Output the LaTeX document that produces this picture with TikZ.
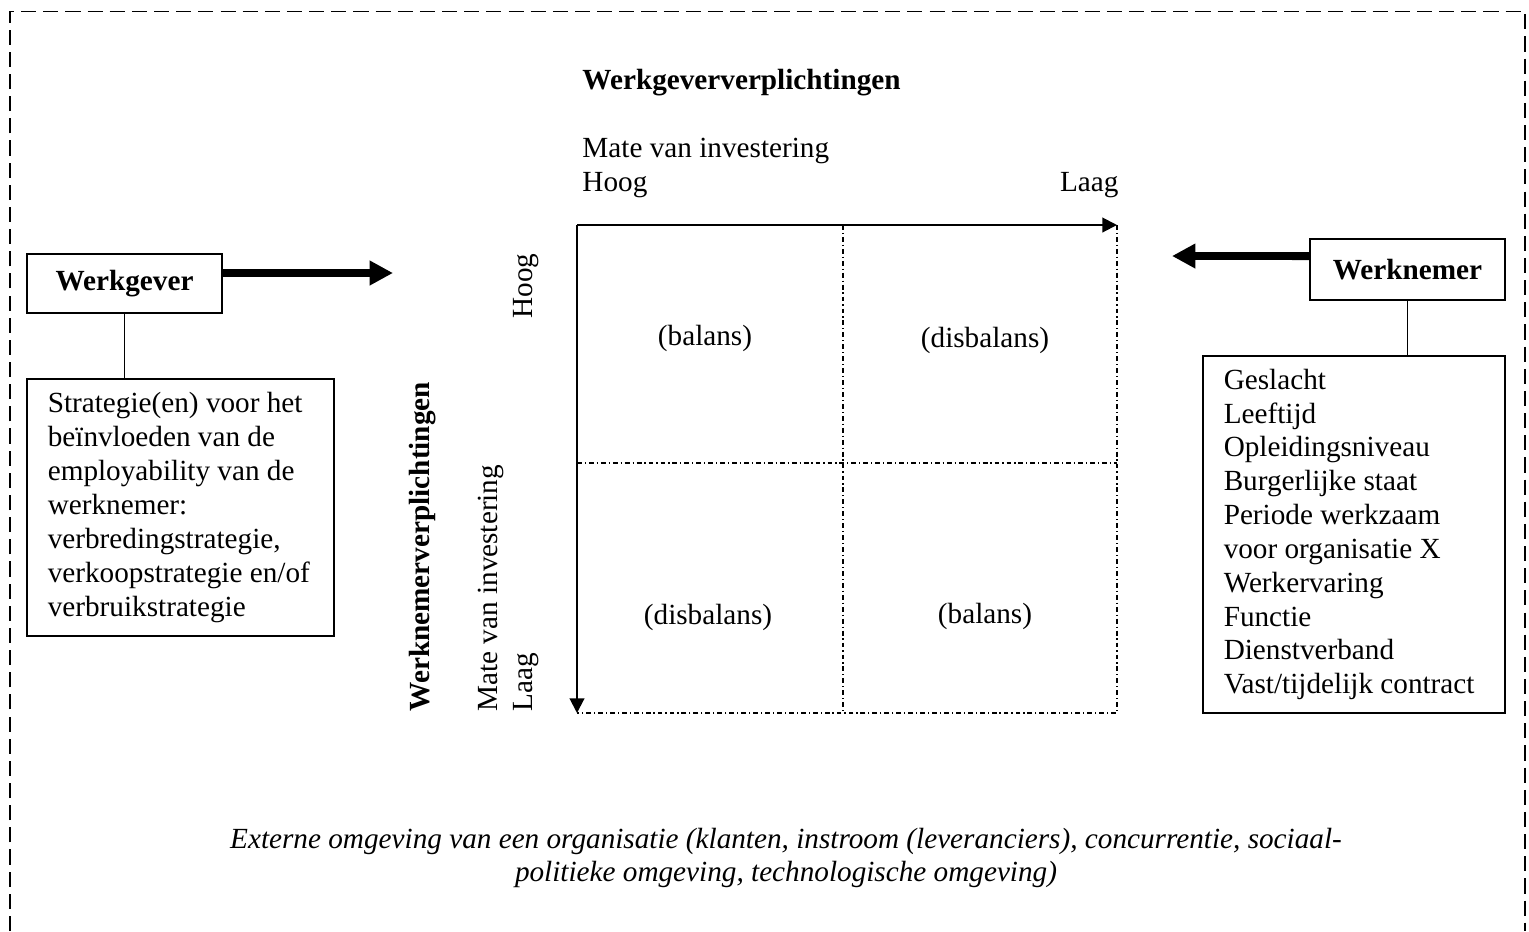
\documentclass[tikz,border=0pt]{standalone}
\usepackage{fontspec}
\setmainfont{Liberation Serif}
\usetikzlibrary{arrows.meta,positioning}

\begin{document}
\begin{tikzpicture}[x=0.4107pt,y=-0.4107pt,>=Latex,
  execute at begin picture={\fontsize{12}{13.9}\selectfont},
  box/.style={draw,line width=0.6pt,inner sep=0pt},
  listbox/.style={box,align=flush left,inner xsep=8.5pt},
  bigarrow/.style={line width=3.2pt,-{Triangle[length=9.6pt,width=9.6pt]}},
  axis/.style={line width=0.8pt,-{Triangle[length=6pt,width=6pt]}},
  cellline/.style={line width=0.6pt,dash pattern=on 2pt off 1.2pt on 0.5pt off 1.2pt},
  vlabel/.style={rotate=90,inner sep=0pt}]
  \useasboundingbox (0,0) rectangle (1529,931);
  \draw[line width=0.8pt,dash pattern=on 6.2pt off 2.9pt]
    (10,931) -- (10,11.5) -- (1525,11.5) -- (1525,931);

  \node[box,minimum width=80.1pt,minimum height=24.2pt,font=\bfseries] (werkgever) at (124.5,283.5) {Werkgever};
  \node[listbox,text width=109pt,minimum height=105.6pt] (strategie) at (180.5,507.5)
    {Strategie(en) voor het\\ beïnvloeden van de\\ employability van de\\ werknemer:\\
     verbredingstrategie,\\ verkoopstrategie en/of\\ verbruikstrategie};
  \node[box,minimum width=80.1pt,minimum height=25.1pt,font=\bfseries] (werknemer) at (1407.5,269.5) {Werknemer};
  \node[listbox,text width=107pt,minimum height=146.6pt] (kenmerken) at (1354,534.5)
    {Geslacht\\ Leeftijd\\ Opleidingsniveau\\ Burgerlijke staat\\ Periode werkzaam\\
     voor organisatie X\\ Werkervaring\\ Functie\\ Dienstverband\\ Vast/tijdelijk contract};
  \draw[line width=0.6pt] (werkgever.south) -- (werkgever.south |- strategie.north);
  \draw[line width=0.6pt] (werknemer.south) -- (werknemer.south |- kenmerken.north);

  \coordinate (gevertip) at (393,273);
  \coordinate (nemertip) at (1172,256);
  \draw[bigarrow] ([yshift=4.3pt]werkgever.east) -- (gevertip);
  \draw[bigarrow] ([yshift=5.5pt]werknemer.west) -- (nemertip);

  \coordinate (o) at (577,225);
  \coordinate (xend) at (1117,225);
  \coordinate (yend) at (577,713);
  \coordinate (corner) at (1117,713);
  \coordinate (midtop) at (843,225);
  \coordinate (midbot) at (843,713);
  \coordinate (midleft) at (577,463);
  \coordinate (midright) at (1117,463);
  \draw[cellline] (xend) -- (corner) -- (yend);
  \draw[cellline] (midtop) -- (midbot);
  \draw[cellline] (midleft) -- (midright);
  \draw[axis] (o) -- (xend);
  \draw[axis] (o) -- (yend);

  \node (c11) at (705,338) {(balans)};
  \node (c12) at (985,340) {(disbalans)};
  \node (c21) at (708,617) {(disbalans)};
  \node (c22) at (985,616) {(balans)};

  \node[anchor=base west,inner sep=0pt,font=\bfseries] (gevertitle) at (582,89) {Werkgeververplichtingen};
  \node[anchor=base west,inner sep=0pt] (gevermate) at (582,157) {Mate van investering};
  \node[anchor=base west,inner sep=0pt] (geverhoog) at (582,191) {Hoog};
  \node[anchor=base east,inner sep=0pt] (geverlaag) at (1119,191) {Laag};

  \node[vlabel,anchor=west,font=\bfseries] (nemertitle) at (423,712) {Werknemerverplichtingen};
  \node[vlabel,anchor=west] (nemermate) at (491,712) {Mate van investering};
  \node[vlabel,anchor=west] (nemerlaag) at (526,712) {Laag};
  \node[vlabel,anchor=east] (nemerhoog) at (526,253) {Hoog};

  \node[align=center,font=\itshape] (omgeving) at (786,858)
    {Externe omgeving van een organisatie (klanten, instroom (leveranciers), concurrentie, sociaal-\\
     politieke omgeving, technologische omgeving)};
\end{tikzpicture}
\end{document}
